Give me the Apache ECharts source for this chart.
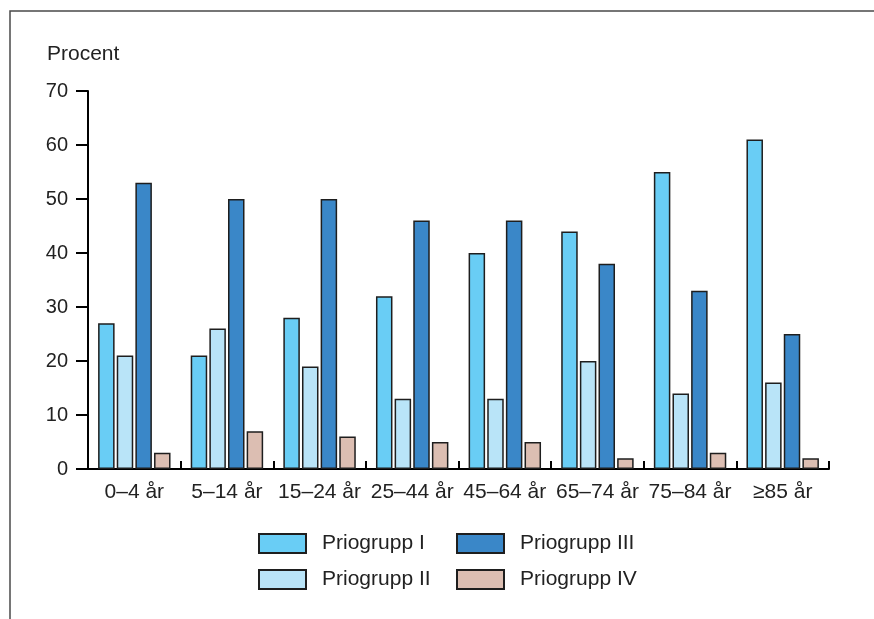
<!DOCTYPE html>
<html>
<head>
<meta charset="utf-8">
<script src="https://cdn.jsdelivr.net/npm/echarts@6/dist/echarts.min.js"></script>
<style>
html,body{margin:0;padding:0;background:#fff;}
#c{width:874px;height:619px;}
</style>
</head>
<body>
<div id="c"></div>
<script>
var categories = ['0–4 år','5–14 år','15–24 år','25–44 år','45–64 år','65–74 år','75–84 år','≥85 år'];
var prio1 = [27,21,28,32,40,44,55,61];
var prio2 = [21,26,19,13,13,20,14,16];
var prio3 = [53,50,50,46,46,38,33,25];
var prio4 = [3,7,6,5,5,2,3,2];
var seriesNames = ['Priogrupp I','Priogrupp II','Priogrupp III','Priogrupp IV'];
var seriesColors = ['#69cdf5','#b9e4f8','#3a87c8','#dcbeb2'];
var yTicks = {min:0, max:70, interval:10};

var FONT = 'Liberation Sans, Arial, sans-serif';
var chart = echarts.init(document.getElementById('c'), null, {renderer:'canvas'});

var values = [prio1, prio2, prio3, prio4];
var series = values.map(function(v, i){
  return {
    name: seriesNames[i],
    type: 'bar',
    data: v,
    barWidth: 16.5,
    barGap: '13%',
    itemStyle: {color: seriesColors[i], borderColor: '#1e1e1e', borderWidth: 1.5},
    emphasis: {disabled: true}
  };
});

var legendCommon = {
  orient: 'vertical',
  itemWidth: 47,
  itemHeight: 19,
  itemGap: 15,
  padding: 0,
  icon: 'rect',
  selectedMode: false,
  textStyle: {fontSize: 21, color: '#222', fontFamily: FONT, padding: [2,0,0,11]}
};

chart.setOption({
  animation: false,
  backgroundColor: '#fff',
  textStyle: {fontFamily: FONT},
  title: {
    text: 'Procent', left: 47, top: 44, padding: 0,
    textStyle: {fontSize: 21, fontWeight: 'normal', color: '#222', fontFamily: FONT}
  },
  graphic: [{
    type: 'polyline',
    shape: {points: [[10,619],[10,11],[874,11]]},
    style: {stroke: '#4a4a4a', lineWidth: 1.5, fill: null},
    silent: true
  }],
  legend: [
    Object.assign({left: 258, top: 533, data: ['Priogrupp I','Priogrupp II']}, legendCommon),
    Object.assign({left: 456, top: 533, data: ['Priogrupp III','Priogrupp IV']}, legendCommon)
  ],
  grid: {left: 88, right: 45, top: 91, bottom: 150, containLabel: false, outerBoundsMode: 'none'},
  xAxis: {
    type: 'category',
    data: categories,
    boundaryGap: true,
    axisLine: {show: true, lineStyle: {color: '#000', width: 2}},
    axisTick: {show: true, inside: true, length: 8, lineStyle: {color: '#000', width: 2}},
    axisLabel: {fontSize: 21, color: '#222', margin: 13, interval: 0, fontFamily: FONT},
    splitLine: {show: false}
  },
  yAxis: {
    type: 'value',
    min: yTicks.min, max: yTicks.max, interval: yTicks.interval,
    axisLine: {show: true, lineStyle: {color: '#000', width: 2}},
    axisTick: {show: true, inside: false, length: 12, lineStyle: {color: '#000', width: 2}},
    axisLabel: {fontSize: 20, color: '#222', margin: 20, fontFamily: FONT},
    splitLine: {show: false}
  },
  series: series
});
</script>
</body>
</html>
